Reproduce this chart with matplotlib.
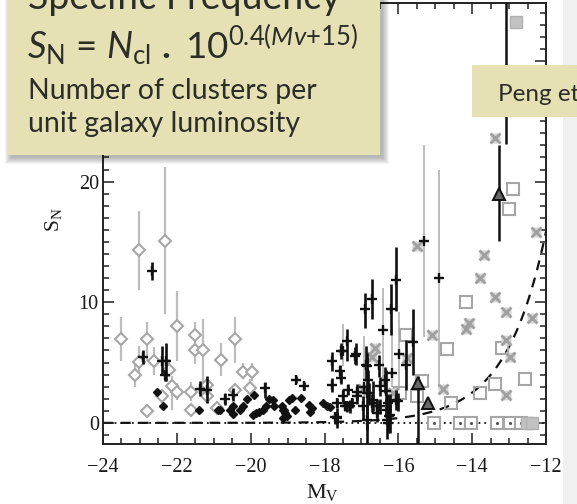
import numpy as np
import matplotlib
matplotlib.use("Agg")
import matplotlib.pyplot as plt
from matplotlib.patches import Rectangle
from matplotlib.ticker import MultipleLocator

plt.rcParams['mathtext.fontset'] = 'custom'
plt.rcParams['mathtext.rm'] = 'Lato'
plt.rcParams['mathtext.it'] = 'Lato:italic'
plt.rcParams['mathtext.bf'] = 'Lato:bold'

# ---------------- data ----------------
# grey open diamonds with grey error bars (nan = no error bar)
gd_x = [-23.52, -23.13, -23.02, -23.02, -22.82, -22.82, -22.62, -22.41, -22.32, -22.20,
        -22.14, -22.00, -22.00, -21.62, -21.62, -21.51, -21.51, -21.30, -21.17, -21.19,
        -20.92, -20.81, -20.42, -20.42, -20.20, -19.97, -20.02]
gd_y = [6.97, 4.00, 5.03, 14.36, 6.97, 0.95, 5.17, 2.20, 15.06, 4.40,
        3.08, 2.60, 8.03, 2.53, 1.03, 7.25, 6.08, 6.08, 3.17, 2.20,
        1.22, 5.25, 6.97, 2.70, 4.20, 4.20, 2.90]
gd_lo = [5.1, 3.0, 3.9, 11.0, 5.1, np.nan, 4.0, np.nan, 9.06, 3.8,
         1.08, 1.9, 5.1, 1.8, np.nan, 6.0, 4.9, 2.2, 2.6, np.nan,
         np.nan, 3.9, 5.0, 2.3, 3.6, 3.5, 2.3]
gd_hi = [8.75, 5.1, 6.4, 17.6, 8.4, np.nan, 6.3, np.nan, 21.2, 5.3,
         3.86, 3.3, 10.9, 3.4, np.nan, 8.4, 7.3, 8.6, 3.6, np.nan,
         np.nan, 6.6, 8.75, 3.2, 5.0, 5.0, 3.6]

# black crosses with black error bars
bc_x = [-22.68, -22.93, -22.41, -22.29, -22.32, -21.37, -21.19, -20.70, -20.47, -19.61,
        -18.77, -18.56, -17.81, -17.81, -17.67, -17.54, -17.40, -17.15, -17.54, -17.49,
        -17.58, -17.38, -16.90, -16.70, -16.20, -16.05, -15.80, -15.60, -16.84, -16.81,
        -16.79, -16.52, -16.51, -16.33, -16.29, -16.86, -17.65, -16.32, -16.05, -17.11,
        -17.31, -16.50, -16.59, -16.23, -17.17, -16.87, -16.27, -16.00, -16.68, -16.95,
        -17.36, -17.13, -17.67, -17.72, -17.26, -16.86, -16.72, -16.59, -16.36, -16.32,
        -16.25, -16.23, -17.45]
bc_y = [12.60, 5.44, 5.17, 5.17, 3.94, 2.80, 2.75, 2.00, 2.33, 2.89,
        3.58, 3.08, 5.11, 3.17, 0.39, 5.94, 6.78, 5.67, 3.72, 2.20,
        4.28, 1.36, 9.42, 10.25, 9.42, 11.86, 4.83, 6.70, 4.69, 3.58,
        2.47, 4.83, 3.03, 2.61, 1.64, 0.25, 0.47, 0.25, 1.92, 2.25,
        1.36, 1.36, 0.80, 0.67, 5.58, 4.83, 0.00, 1.78, 1.90, 1.40,
        2.75, 2.60, 1.64, 0.50, 1.64, 2.50, 1.64, 1.36, 3.58, 1.08,
        0.53, 1.78, 1.36]
bc_lo = [11.85, 4.9, 4.0, 3.44, 3.44, 2.2, 1.64, 1.5, 1.8, 2.05,
         3.3, 2.7, 4.3, 2.6, -0.4, 5.3, 5.1, 4.8, 3.2, 1.6,
         3.7, 0.9, 7.9, 8.6, 7.3, 9.3, 2.75, 4.0, 3.6, 2.6,
         1.5, 3.8, 2.2, 0.5, 1.0, -2.0, -0.1, -1.3, 1.1, 1.6,
         0.8, 0.7, 0.1, -0.8, 4.9, 3.5, -0.8, 1.0, 1.0, 0.3,
         2.3, 2.0, 1.2, -0.1, 1.2, -0.6, 0.9, 0.6, 2.5, 0.0,
         -0.5, 1.2, 1.0]
bc_hi = [13.35, 6.0, 6.36, 6.64, 4.4, 3.44, 3.86, 2.47, 2.9, 3.4,
         3.9, 3.4, 5.9, 3.7, 0.8, 6.6, 7.75, 6.6, 4.3, 2.8,
         4.8, 1.8, 10.8, 11.9, 11.5, 14.6, 6.9, 9.4, 5.8, 4.4,
         3.3, 5.6, 3.8, 4.4, 2.3, 1.5, 1.2, 1.2, 2.7, 2.9,
         1.9, 2.0, 1.6, 1.5, 6.3, 6.4, 0.9, 2.5, 3.5, 2.2,
         3.2, 3.2, 2.1, 0.9, 2.1, 5.5, 2.4, 2.0, 4.6, 2.4,
         1.2, 2.4, 1.7]

# black crosses with grey error bars
cg_x = [-17.51, -15.98, -16.41, -15.30, -14.89, -16.18, -16.93]
cg_y = [5.94, 5.67, 7.70, 15.10, 12.00, 4.10, 3.00]
cg_lo = [4.7, 2.75, 3.0, 7.1, 3.0, 3.0, 0.25]
cg_hi = [8.2, 9.2, 11.2, 23.0, 21.0, 8.3, 7.2]

# small filled black diamonds
bd_x = [-22.55, -22.37, -21.39, -20.88, -20.83, -20.56, -20.47, -20.47, -20.29, -20.20,
        -20.11, -19.91, -19.95, -19.86, -19.77, -19.66, -19.59, -19.50, -19.40, -19.37,
        -19.16, -19.12, -19.07, -19.02, -18.95, -18.89, -18.80, -18.65, -18.41, -18.39,
        -18.35, -18.03, -17.94, -17.85, -19.12, -19.10]
bd_y = [2.60, 1.36, 1.08, 1.08, 1.08, 1.08, 0.75, 1.36, 1.08, 1.42,
        1.97, 2.33, 0.67, 0.80, 0.94, 1.08, 1.36, 1.97, 1.92, 1.36,
        1.42, 1.08, 0.80, 0.53, 1.92, 2.06, 1.08, 2.06, 1.50, 0.94,
        1.22, 1.64, 1.42, 1.30, 0.39, 1.10]

# grey boxed-cross markers
gx_x = [-15.50, -15.10, -14.80, -13.68, -13.79, -13.38, -13.08, -14.09, -14.18, -13.08,
        -12.98, -13.08, -12.28, -12.37, -13.38, -16.63, -16.72, -16.95, -15.77, -16.14]
gx_y = [14.7, 7.25, 2.8, 13.9, 12.0, 10.4, 9.2, 8.25, 7.75, 6.86,
        5.5, 2.33, 15.8, 8.7, 23.6, 6.2, 5.5, 2.8, 5.4, 2.5]

# grey open squares
sq_x = [-12.89, -13.00, -14.18, -14.69, -15.79, -13.18, -12.57, -13.38, -13.79, -14.58,
        -15.37, -15.50, -15.96]
sq_y = [19.4, 17.7, 10.0, 6.1, 7.3, 6.2, 3.6, 3.2, 2.5, 1.64,
        3.44, 2.25, 2.47]

# grey open squares on the S_N = 0 line
sq0_x = [-15.03, -14.33, -14.03, -13.33, -12.98, -12.68]
sq0_y = [0, 0, 0, 0, 0, 0]

# grey filled squares
fs_x = [-12.80, -12.52, -12.38]
fs_y = [33.2, 0.0, 0.0]

# triangles with black error bars
tr_x = [-13.28, -15.48, -15.19, -13.09]
tr_y = [19.0, 3.3, 1.64, 38.0]
tr_lo = [15.1, -3.0, np.nan, 23.1]
tr_hi = [23.0, 3.9, np.nan, 38.0]

# curve of constant cluster number
N_CONST = 1.0
mv_curve = np.linspace(-24, -12, 400)

x_ticks = [-24, -22, -20, -18, -16, -14, -12]
y_ticks = [0, 10, 20, 30]

# ---------------- figure ----------------
W, H = 577, 504
fig = plt.figure(figsize=(W / 100, H / 100), dpi=100)
fig.patch.set_facecolor('white')
L, R, T, B = 103, 546, 3, 444
ax = fig.add_axes([L / W, 1 - B / H, (R - L) / W, (B - T) / H])
ax.set_xlim(-24, -12)
ax.set_ylim(-1.75, 34.8)

GREY_M = '#a6a6a6'
GREY_E = '#bdbdbd'
BLACK = '#111111'


def vbars(x, lo, hi, color, lw, z):
    x, lo, hi = (np.asarray(a, float) for a in (x, lo, hi))
    m = np.isfinite(lo) & np.isfinite(hi)
    ax.vlines(x[m], lo[m], hi[m], colors=color, linewidth=lw, zorder=z)


# reference lines
ax.axhline(0, color=BLACK, lw=1.3, ls=(0, (1, 2.2)), zorder=1)
ax.plot(mv_curve, N_CONST * 10 ** (0.4 * (mv_curve + 15)), color=BLACK, lw=1.6,
        ls=(0, (4.5, 3.5)), zorder=1)

# grey series
vbars(gd_x, gd_lo, gd_hi, GREY_E, 1.6, 2)
ax.plot(gd_x, gd_y, ls='none', marker='D', ms=6, mfc='white', mec=GREY_M, mew=1.5, zorder=3)
vbars(cg_x, cg_lo, cg_hi, GREY_E, 1.4, 2)
ax.plot(sq_x, sq_y, ls='none', marker='s', ms=8, mfc='none', mec=GREY_M, mew=1.5, zorder=3)
ax.plot(sq0_x, sq0_y, ls='none', marker='s', ms=8, mfc='white', mec=GREY_M, mew=1.5, zorder=3)
ax.plot(sq0_x, sq0_y, ls='none', marker='.', ms=2.5, color='#555555', zorder=3)
ax.plot(fs_x, fs_y, ls='none', marker='s', ms=8, color='#c2c2c2', mec='#b0b0b0', zorder=3)
ax.plot(gx_x, gx_y, ls='none', marker='s', ms=7, mfc='#d4d4d4', mec='none', zorder=3)
ax.plot(gx_x, gx_y, ls='none', marker='x', ms=7, mew=2.0, color='#a0a0a0', zorder=3)

# black series
vbars(bc_x, bc_lo, bc_hi, BLACK, 1.9, 4)
ax.plot(bc_x, bc_y, ls='none', marker='+', ms=7, mew=1.7, color=BLACK, zorder=5)
ax.plot(cg_x, cg_y, ls='none', marker='+', ms=7, mew=1.7, color=BLACK, zorder=5)
ax.plot(bd_x, bd_y, ls='none', marker='D', ms=3.6, color=BLACK, zorder=5)
vbars(tr_x, tr_lo, tr_hi, BLACK, 1.8, 4)
ax.plot(tr_x, tr_y, ls='none', marker='^', ms=8, mfc='#666666', mec=BLACK, mew=1.4, zorder=5)

# axes styling
for s in ax.spines.values():
    s.set_linewidth(1.4)
    s.set_color('#222222')
ax.set_xticks(x_ticks)
ax.set_yticks(y_ticks)
ax.xaxis.set_minor_locator(MultipleLocator(0.5))
ax.yaxis.set_minor_locator(MultipleLocator(1))
ax.tick_params(which='both', direction='in', top=True, right=True, width=1.1,
               color='#222222', labelsize=14.5, labelcolor='#1a1a1a')
ax.tick_params(which='major', length=8)
ax.tick_params(which='minor', length=4.5)
ax.tick_params(axis='x', pad=10)
ax.tick_params(axis='y', pad=3)
for lab in ax.get_xticklabels() + ax.get_yticklabels():
    lab.set_fontfamily('Liberation Serif')

ax.text(-0.11, 0.508, r'S$_\mathregular{N}$', transform=ax.transAxes, rotation=90,
        ha='center', va='center', fontsize=15.5, family='Liberation Serif', color='#1a1a1a')
ax.text(0.496, -0.112, r'M$_\mathregular{V}$', transform=ax.transAxes,
        ha='center', va='center', fontsize=16, family='Liberation Serif', color='#1a1a1a')

# ---------------- slide overlay ----------------
ov = fig.add_axes([0, 0, 1, 1], zorder=10)
ov.set_xlim(0, W)
ov.set_ylim(H, 0)
ov.axis('off')
ov.patch.set_alpha(0)

KHAKI = '#e6e1b4'
TXT = '#2d2d28'

ov.add_patch(Rectangle((563, 0), 14, H, color='#f0f0f0', lw=0))

# soft drop shadow
for k in range(7):
    ov.add_patch(Rectangle((8 + 3 - k, -10), 372 + 2 * k, 165 + 3 + k,
                           color='black', alpha=0.045, lw=0))
ov.add_patch(Rectangle((8, -10), 372, 165, color=KHAKI, lw=0))
ov.add_patch(Rectangle((471.7, 65), 110, 51.7, color=KHAKI, lw=0))

ov.text(28, 9, 'Specific Frequency', fontsize=27, family='Lato', color=TXT, va='baseline')
ov.text(27, 58, r'$\mathit{S}_\mathrm{N}$ = $\mathit{N}_\mathrm{cl}$ $\mathbf{.}$ 10$^{0.4(\mathit{Mv}{+}15)}$',
        fontsize=26.5, family='Lato', color=TXT, va='baseline')
ov.text(28, 99, 'Number of clusters per', fontsize=20.5, family='Lato', color=TXT, va='baseline')
ov.text(28, 132, 'unit galaxy luminosity', fontsize=20.5, family='Lato', color=TXT, va='baseline')
ov.text(497.7, 101, 'Peng et al.', fontsize=17.5, family='Lato', color=TXT, va='baseline')
ov.add_patch(Rectangle((577, 0), 10, H, color='white', lw=0))

fig.savefig('out.png', dpi=100)
